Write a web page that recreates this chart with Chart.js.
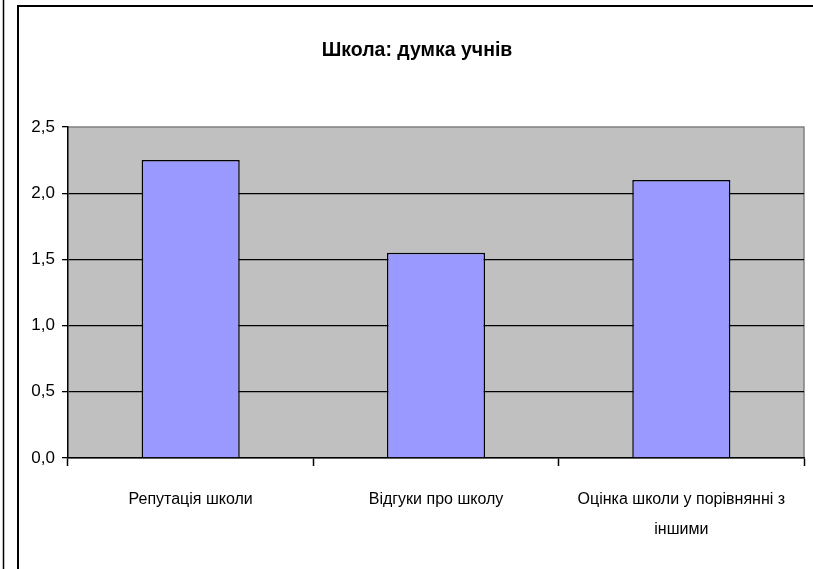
<!DOCTYPE html>
<html>
<head>
<meta charset="utf-8">
<script src="https://cdn.jsdelivr.net/npm/chart.js@4"></script>
<style>
    html, body { margin: 0; padding: 0; background: #fff; }
    canvas { display: block; }
</style>
</head>
<body>
<canvas id="schoolChart" width="813" height="569"></canvas>
<script>
// Дані діаграми
const categories = ['Репутація школи', 'Відгуки про школу', ['Оцінка школи у порівнянні з', 'іншими']];
const opinionValues = [2.25, 1.55, 2.1];
const yTicks = [0, 0.5, 1, 1.5, 2, 2.5];
const chartTitle = 'Школа: думка учнів';

const FONT = "'Liberation Sans Narrow', 'Arial Narrow', 'Liberation Sans', sans-serif";

/**
 * Сірий фон області побудови + рамки діаграми
 */
const plotFrame = {
    id: 'plotFrame',
    beforeDraw(chart) {
        const { ctx, chartArea: a } = chart;
        ctx.save();
        ctx.fillStyle = '#C0C0C0';
        ctx.fillRect(a.left, a.top, a.right - a.left, a.bottom - a.top);
        ctx.strokeStyle = '#808080';
        ctx.lineWidth = 1.5;
        ctx.beginPath();
        ctx.moveTo(a.left, a.top);
        ctx.lineTo(a.right, a.top);
        ctx.lineTo(a.right, a.bottom);
        ctx.stroke();
        ctx.restore();
    },
    afterDraw(chart) {
        const { ctx, width, height } = chart;
        ctx.save();
        ctx.strokeStyle = '#000';
        // рамка сусідньої діаграми зліва
        ctx.lineWidth = 1.5;
        ctx.beginPath();
        ctx.moveTo(3.5, 0);
        ctx.lineTo(3.5, height);
        ctx.stroke();
        // рамка цієї діаграми
        ctx.lineWidth = 2;
        ctx.beginPath();
        ctx.moveTo(18, height);
        ctx.lineTo(18, 6);
        ctx.lineTo(width, 6);
        ctx.stroke();
        ctx.restore();
    }
};

Chart.defaults.color = '#000';
Chart.defaults.font.family = FONT;

new Chart(document.getElementById('schoolChart').getContext('2d'), {
    type: 'bar',
    data: {
        labels: categories,
        datasets: [{
            label: 'Думка учнів',
            data: opinionValues,
            backgroundColor: '#9999FF',
            borderColor: '#000',
            borderWidth: 1.5,
            barPercentage: 0.4,
            categoryPercentage: 1
        }]
    },
    options: {
        responsive: false,
        animation: false,
        layout: {
            // зліва 30, щоб заголовок центрувався по рамці діаграми
            padding: { left: 30, right: 9, top: 0, bottom: 0 }
        },
        plugins: {
            legend: { display: false },
            tooltip: { enabled: false },
            title: {
                display: true,
                text: chartTitle,
                color: '#000',
                font: { family: FONT, size: 19.5, weight: 'bold', lineHeight: 1.2 },
                padding: { top: 38.5, bottom: 65.1 }
            }
        },
        scales: {
            x: {
                grid: {
                    offset: true,
                    drawOnChartArea: false,
                    drawTicks: true,
                    tickLength: 8,
                    tickColor: '#000',
                    tickWidth: 1.5
                },
                border: { color: '#000', width: 1.5 },
                ticks: {
                    color: '#000',
                    padding: 18,
                    maxRotation: 0,
                    autoSkip: false,
                    font: { family: FONT, size: 16, lineHeight: 1.9 }
                },
                afterFit(scale) { scale.height = 111; }
            },
            y: {
                min: 0,
                max: 2.5,
                afterBuildTicks(scale) {
                    scale.ticks = yTicks.map(v => ({ value: v }));
                },
                grid: {
                    color: ctx => (ctx.tick && ctx.tick.value === 2.5) ? 'rgba(0,0,0,0)' : '#000',
                    lineWidth: 1.3,
                    tickLength: 6,
                    tickColor: '#000',
                    tickWidth: 1.3
                },
                border: { color: '#000', width: 1.5 },
                ticks: {
                    color: '#000',
                    padding: 7,
                    font: { family: FONT, size: 17 },
                    callback: value => value.toFixed(1).replace('.', ',')
                },
                afterFit(scale) { scale.width = 38; }
            }
        }
    },
    plugins: [plotFrame]
});
</script>
</body>
</html>
